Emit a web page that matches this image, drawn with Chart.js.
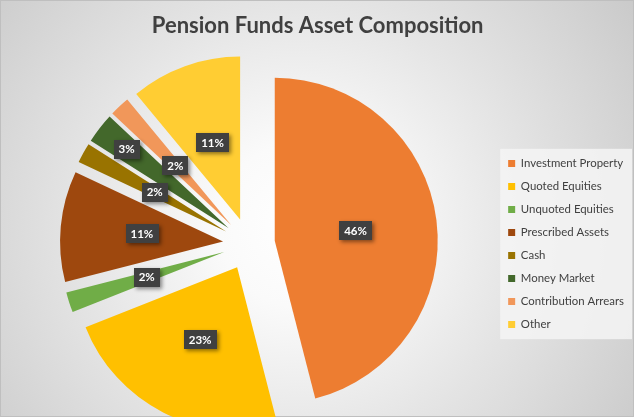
<!DOCTYPE html>
<html>
<head>
<meta charset="utf-8">
<script src="https://cdn.jsdelivr.net/npm/chart.js@4"></script>
<style>
  html, body { margin: 0; padding: 0; background: #ffffff; }
  #wrap { width: 634px; height: 417px; }
</style>
</head>
<body>
<div id="wrap"><canvas id="pensionChart" width="634" height="417"></canvas></div>
<script>
// Chart data
const categories = [
  "Investment Property",
  "Quoted Equities",
  "Unquoted Equities",
  "Prescribed Assets",
  "Cash",
  "Money Market",
  "Contribution Arrears",
  "Other",
];
const shares = [46, 23, 2, 11, 2, 3, 2, 11];

// Styling
const sliceColors = ["#ED7D31", "#FFC000", "#70AD47", "#9E480E", "#997300", "#43682B", "#F1975A", "#FFCD33"];
const labelDistance = [0.5, 0.5, 0.5, 0.5, 0.5, 0.79, 0.5, 0.5]; // fraction of radius, past the explosion
const EXPLODE = 26;
const FONT = "Lato";

// Radial grey background, thin border and the legend panel
const backgroundPlugin = {
  id: "bg",
  beforeDraw(chart) {
    const { ctx, width, height } = chart;
    ctx.save();
    const g = ctx.createRadialGradient(300, 225, 0, 300, 225, 410);
    g.addColorStop(0, "#ffffff");
    g.addColorStop(0.2, "#fafafa");
    g.addColorStop(0.55, "#e4e4e4");
    g.addColorStop(1, "#c9c9c9");
    ctx.fillStyle = g;
    ctx.fillRect(0, 0, width, height);
    ctx.strokeStyle = "#bfbfbf";
    ctx.lineWidth = 1;
    ctx.strokeRect(0.5, 0.5, width - 1, height - 1);

    const lg = chart.legend;
    if (lg && lg.legendHitBoxes && lg.legendHitBoxes.length) {
      const boxes = lg.legendHitBoxes;
      const top = boxes[0].top - 9;
      const bottom = boxes[boxes.length - 1].top + boxes[boxes.length - 1].height + 9;
      const left = boxes[0].left - 8;
      const right = Math.max(...boxes.map((b) => b.left + b.width)) + 8;
      ctx.fillStyle = "rgba(244,244,244,0.85)";
      ctx.fillRect(left, top, right - left, bottom - top);
    }
    ctx.restore();
  },
};

// Draw every slice pushed out along its bisector (Excel style explosion)
const explodePlugin = {
  id: "explode",
  beforeDatasetDraw(chart, args) {
    const { ctx } = chart;
    args.meta.data.forEach((arc) => {
      const mid = (arc.startAngle + arc.endAngle) / 2;
      ctx.save();
      ctx.translate(Math.cos(mid) * EXPLODE, Math.sin(mid) * EXPLODE);
      arc.draw(ctx);
      ctx.restore();
    });
    return false;
  },
};

// Dark percentage boxes
const labelPlugin = {
  id: "pctLabels",
  afterDatasetsDraw(chart) {
    const { ctx } = chart;
    const meta = chart.getDatasetMeta(0);
    ctx.save();
    ctx.font = `bold 11.5px ${FONT}`;
    ctx.textAlign = "center";
    ctx.textBaseline = "middle";
    meta.data.forEach((arc, i) => {
      const mid = (arc.startAngle + arc.endAngle) / 2;
      const dist = EXPLODE + arc.outerRadius * labelDistance[i];
      const x = arc.x + Math.cos(mid) * dist;
      const y = arc.y + Math.sin(mid) * dist;
      const text = shares[i] + "%";
      const w = ctx.measureText(text).width + 10;
      const h = 19;
      ctx.save();
      ctx.shadowColor = "rgba(0,0,0,0.45)";
      ctx.shadowBlur = 4;
      ctx.shadowOffsetX = 2;
      ctx.shadowOffsetY = 2;
      ctx.fillStyle = "#404040";
      ctx.fillRect(Math.round(x - w / 2), Math.round(y - h / 2), Math.round(w), h);
      ctx.restore();
      ctx.fillStyle = "#ffffff";
      ctx.fillText(text, x, y + 0.5);
    });
    ctx.restore();
  },
};

const ctx = document.getElementById("pensionChart").getContext("2d");
const pensionChart = new Chart(ctx, {
  type: "pie",
  data: {
    labels: categories,
    datasets: [
      {
        data: shares,
        backgroundColor: sliceColors,
        borderWidth: 0,
        radius: 163,
        clip: false,
      },
    ],
  },
  options: {
    responsive: false,
    animation: false,
    layout: {
      padding: { left: 1.3, right: 0, top: 0, bottom: 0 },
    },
    plugins: {
      title: {
        display: true,
        text: "Pension Funds Asset Composition",
        color: "#404040",
        font: { family: FONT, size: 22, weight: "bold" },
        padding: { top: 13, bottom: 31.6 },
      },
      legend: {
        position: "right",
        fullSize: false,
        labels: {
          boxWidth: 7,
          boxHeight: 7,
          padding: 11.6,
          color: "#404040",
          font: { family: FONT, size: 11.4 },
        },
      },
      tooltip: { enabled: false },
    },
  },
  plugins: [backgroundPlugin, explodePlugin, labelPlugin],
});
</script>
</body>
</html>
